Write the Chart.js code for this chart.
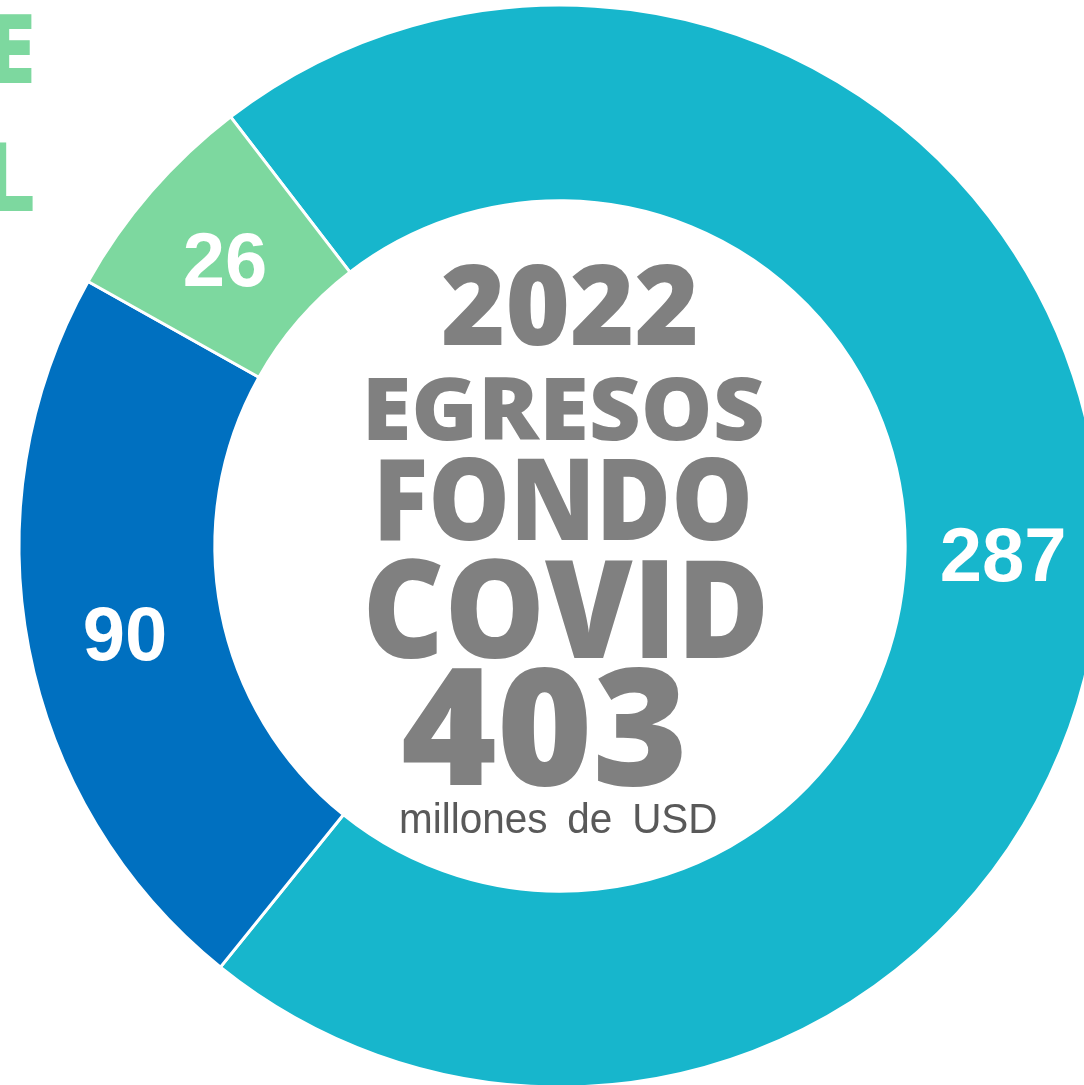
<!DOCTYPE html>
<html>
<head>
<meta charset="utf-8">
<script src="https://cdn.jsdelivr.net/npm/chart.js@4"></script>
<style>
  html, body { margin: 0; padding: 0; background: #fff; overflow: hidden; }
  #wrap { position: absolute; left: 0; top: 0; width: 1120px; height: 1092px; }
</style>
</head>
<body>
<div id="wrap"><canvas id="myChart"></canvas></div>
<script>
// datos (millones de USD)
var categories = ['Segmento A', 'Segmento B', 'Segmento C'];
var values = [287, 90, 26];
var colors = ['#17b6cc', '#0070c0', '#7dd89f'];
var centerLines = ['2022', 'EGRESOS', 'FONDO', 'COVID', '403', 'millones de USD'];
var sideLetters = ['E', 'L'];

// fit a text line into a box (cap top, baseline, left, right)
function fitText(ctx, text, weight, family, color, left, right, top, bottom, gap) {
	ctx.save();
	ctx.wordSpacing = (gap || 0) + 'px';
	ctx.font = weight + ' 100px ' + family;
	var m = ctx.measureText(text);
	var h = m.actualBoundingBoxAscent;
	var size = (bottom - top) / h * 100;
	ctx.font = weight + ' ' + size + 'px ' + family;
	m = ctx.measureText(text);
	var w = m.actualBoundingBoxLeft + m.actualBoundingBoxRight;
	var sx = (right - left) / w;
	ctx.translate(left, bottom);
	ctx.scale(sx, 1);
	ctx.textAlign = 'left';
	ctx.textBaseline = 'alphabetic';
	ctx.fillStyle = color;
	ctx.fillText(text, m.actualBoundingBoxLeft, 0);
	ctx.restore();
}

var labelsPlugin = {
	id: 'labels',
	afterDraw: function(chart) {
		var ctx = chart.ctx;
		var meta = chart.getDatasetMeta(0);
		ctx.save();
		ctx.font = 'bold 76px "Liberation Sans", Arial, sans-serif';
		ctx.fillStyle = '#ffffff';
		ctx.textAlign = 'center';
		ctx.textBaseline = 'alphabetic';
		meta.data.forEach(function(arc, i) {
			var p = arc.tooltipPosition();
			ctx.fillText(String(values[i]), p.x, p.y + 30);
		});
		ctx.restore();

		var fam = '"Open Sans", sans-serif';
		var gray = '#808080';
		fitText(ctx, centerLines[0], '800', fam, gray, 443, 695, 265, 345);
		fitText(ctx, centerLines[1], '800', fam, gray, 368, 762, 378, 440);
		fitText(ctx, centerLines[2], '800', fam, gray, 380, 748, 458, 540);
		fitText(ctx, centerLines[3], '800', fam, gray, 368, 763, 560, 658);
		fitText(ctx, centerLines[4], '800', fam, gray, 403, 682, 668, 785);
		fitText(ctx, centerLines[5], 'normal', '"Liberation Sans", Arial, sans-serif', '#595959', 401, 716, 802, 833, 9);

		// recortes de texto a la izquierda
		ctx.save();
		ctx.fillStyle = '#7dd89f';
		ctx.font = '800 96px "Open Sans", sans-serif';
		ctx.textAlign = 'right';
		ctx.textBaseline = 'alphabetic';
		ctx.fillText(sideLetters[0], 36, 83);
		ctx.fillText(sideLetters[1], 36, 211);
		ctx.restore();
	}
};

var ctx = document.getElementById('myChart').getContext('2d');

var donut = new Chart(ctx, {
	type: 'doughnut',
	data: {
		labels: categories,
		datasets: [{
			data: values,
			backgroundColor: colors,
			borderColor: '#ffffff',
			borderWidth: 3
		}]
	},
	options: {
		responsive: true,
		maintainAspectRatio: false,
		animation: false,
		rotation: -37.5,
		radius: 541,
		cutout: '63.8%',
		plugins: {
			legend: { display: false },
			tooltip: { enabled: false }
		}
	},
	plugins: [labelsPlugin]
});
</script>
</body>
</html>
